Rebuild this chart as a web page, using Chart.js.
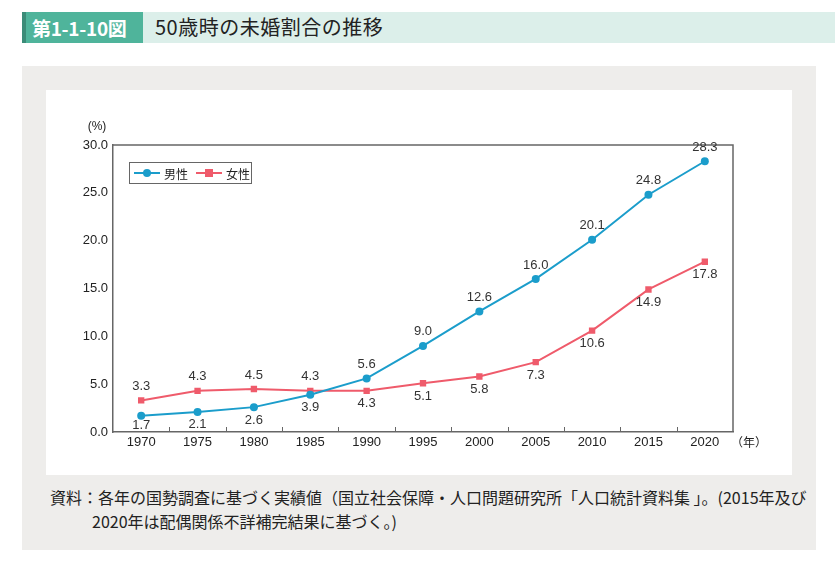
<!DOCTYPE html>
<html><head><meta charset="utf-8">
<script src="https://cdn.jsdelivr.net/npm/chart.js@4"></script>
<style>
body{margin:0;background:#fff;width:835px;height:568px;position:relative;overflow:hidden;font-family:"Liberation Sans","Noto Sans CJK JP",sans-serif;}
#hdr{position:absolute;left:22px;top:12px;width:813px;height:31px;background:#dcefea;}
#lab{position:absolute;left:0;top:0;width:121px;height:31px;background:#4fb49b;border-left:4px solid #3b8c78;box-sizing:border-box;color:#fff;font:bold 19px "Noto Sans CJK JP",sans-serif;line-height:31px;padding-left:6px;white-space:nowrap;letter-spacing:-0.3px;}
#ttl{position:absolute;left:133px;top:0;height:31px;line-height:31px;color:#222;font:20px "Noto Sans CJK JP",sans-serif;white-space:nowrap;letter-spacing:0.5px;}
#panel{position:absolute;left:22px;top:66px;width:794px;height:484px;background:#eeedeb;}
#card{position:absolute;left:46px;top:90px;width:746px;height:385px;background:#fff;}
#legend{position:absolute;left:129px;top:162px;width:123px;height:22px;border:1px solid #666;box-sizing:border-box;font:12px "Noto Sans CJK JP",sans-serif;color:#222;display:flex;align-items:center;padding-left:4px;white-space:nowrap;}
.li{display:flex;align-items:center;margin-right:8px;}
.sw{position:relative;width:26px;height:10px;margin-right:4px;}
.sw i{position:absolute;left:0;top:4px;width:26px;height:2px;}
.sw b{position:absolute;left:9px;top:1px;width:8px;height:8px;}
#note{position:absolute;left:50px;top:485px;font:16px "Noto Sans CJK JP",sans-serif;color:#222;line-height:24px;white-space:nowrap;}
</style></head><body>
<div id="hdr"><div id="lab">第1-1-10図</div><div id="ttl">50歳時の未婚割合の推移</div></div>
<div id="panel"></div>
<div id="card"><canvas id="c" width="746" height="385"></canvas></div>
<div id="legend">
 <div class="li"><div class="sw"><i style="background:#1b9dcb"></i><b style="background:#1b9dcb;border-radius:50%"></b></div>男性</div>
 <div class="li"><div class="sw"><i style="background:#ef5b6b"></i><b style="background:#ef5b6b"></b></div>女性</div>
</div>
<div id="note">資料：各年の国勢調査に基づく実績値（国立社会保障・人口問題研究所「人口統計資料集 」。(2015年及び<br><span style="padding-left:42px">2020年は配偶関係不詳補完結果に基づく。)</span></div>
<script>
const years = ["1970","1975","1980","1985","1990","1995","2000","2005","2010","2015","2020"];
const male = [1.7,2.1,2.6,3.9,5.6,9.0,12.6,16.0,20.1,24.8,28.3];
const female = [3.3,4.3,4.5,4.3,4.3,5.1,5.8,7.3,10.6,14.9,17.8];
const maleLabelBelow = [true,true,true,true,false,false,false,false,false,false,false];
const femaleLabelBelow = [false,false,false,false,true,true,true,true,true,true,true];
const yTicks = [0,5,10,15,20,25,30];

const MALE_C = "#1b9dcb", FEMALE_C = "#ef5b6b";

const deco = {
  id:"deco",
  afterDatasetsDraw(chart){
    const ctx = chart.ctx, a = chart.chartArea;
    const xs = chart.scales.x;
    ctx.save();
    ctx.strokeStyle = "#666"; ctx.lineWidth = 1.5;
    ctx.beginPath();
    ctx.moveTo(a.left, a.top); ctx.lineTo(a.right, a.top); ctx.lineTo(a.right, a.bottom);
    ctx.stroke();
    ctx.lineWidth = 1;
    for (let i=0;i<years.length-1;i++){
      const x = Math.round((xs.getPixelForValue(i)+xs.getPixelForValue(i+1))/2)+0.5;
      ctx.beginPath(); ctx.moveTo(x,a.bottom); ctx.lineTo(x,a.bottom-5); ctx.stroke();
    }
    ctx.fillStyle = "#222";
    ctx.font = "12px 'Liberation Sans','Noto Sans CJK JP'";
    ctx.textAlign = "center"; ctx.textBaseline = "middle";
    ctx.fillText("(%)", a.left-16, a.top-18);
    ctx.textAlign = "left";
    ctx.font = "12px 'Noto Sans CJK JP'";
    ctx.fillText("（年）", a.right-2, a.bottom+10);
    ctx.font = "13px 'Liberation Sans'";
    ctx.fillStyle = "#333";
    ctx.textAlign = "center";
    const sets = [[0, maleLabelBelow],[1, femaleLabelBelow]];
    sets.forEach(([di, below])=>{
      chart.getDatasetMeta(di).data.forEach((pt,i)=>{
        const v = chart.data.datasets[di].data[i];
        let y = below[i] ? pt.y+13 : pt.y-14;
        if (y > a.bottom-7) y = a.bottom-7;
        ctx.fillText(v.toFixed(1), pt.x, y);
      });
    });
    ctx.restore();
  }
};

new Chart(document.getElementById("c"), {
  type:"line",
  data:{labels:years, datasets:[
    {label:"男性", data:male, borderColor:MALE_C, backgroundColor:MALE_C, borderWidth:2, pointStyle:"circle", pointRadius:4, pointBorderWidth:0, tension:0},
    {label:"女性", data:female, borderColor:FEMALE_C, backgroundColor:FEMALE_C, borderWidth:2, pointStyle:"rect", pointRadius:4.5, pointBorderWidth:0, tension:0}
  ]},
  options:{
    responsive:false, animation:false,
    layout:{padding:{top:55,right:59,left:0,bottom:0}},
    plugins:{legend:{display:false}, tooltip:{enabled:false}},
    scales:{
      x:{offset:true, grid:{display:false, drawTicks:false}, border:{color:"#666", width:1.5},
         ticks:{color:"#222", font:{size:13, family:"'Liberation Sans'"}, padding:3, maxRotation:0},
         afterFit(s){s.height=43;}},
      y:{min:0, max:30, grid:{display:false, drawTicks:false}, border:{color:"#666", width:1.5},
         afterBuildTicks(s){s.ticks = yTicks.map(v=>({value:v}));},
         ticks:{color:"#222", font:{size:13, family:"'Liberation Sans'"}, padding:5, callback:v=>Number(v).toFixed(1)},
         afterFit(s){s.width=67;}}
    }
  },
  plugins:[deco]
});
</script>
</body></html>
